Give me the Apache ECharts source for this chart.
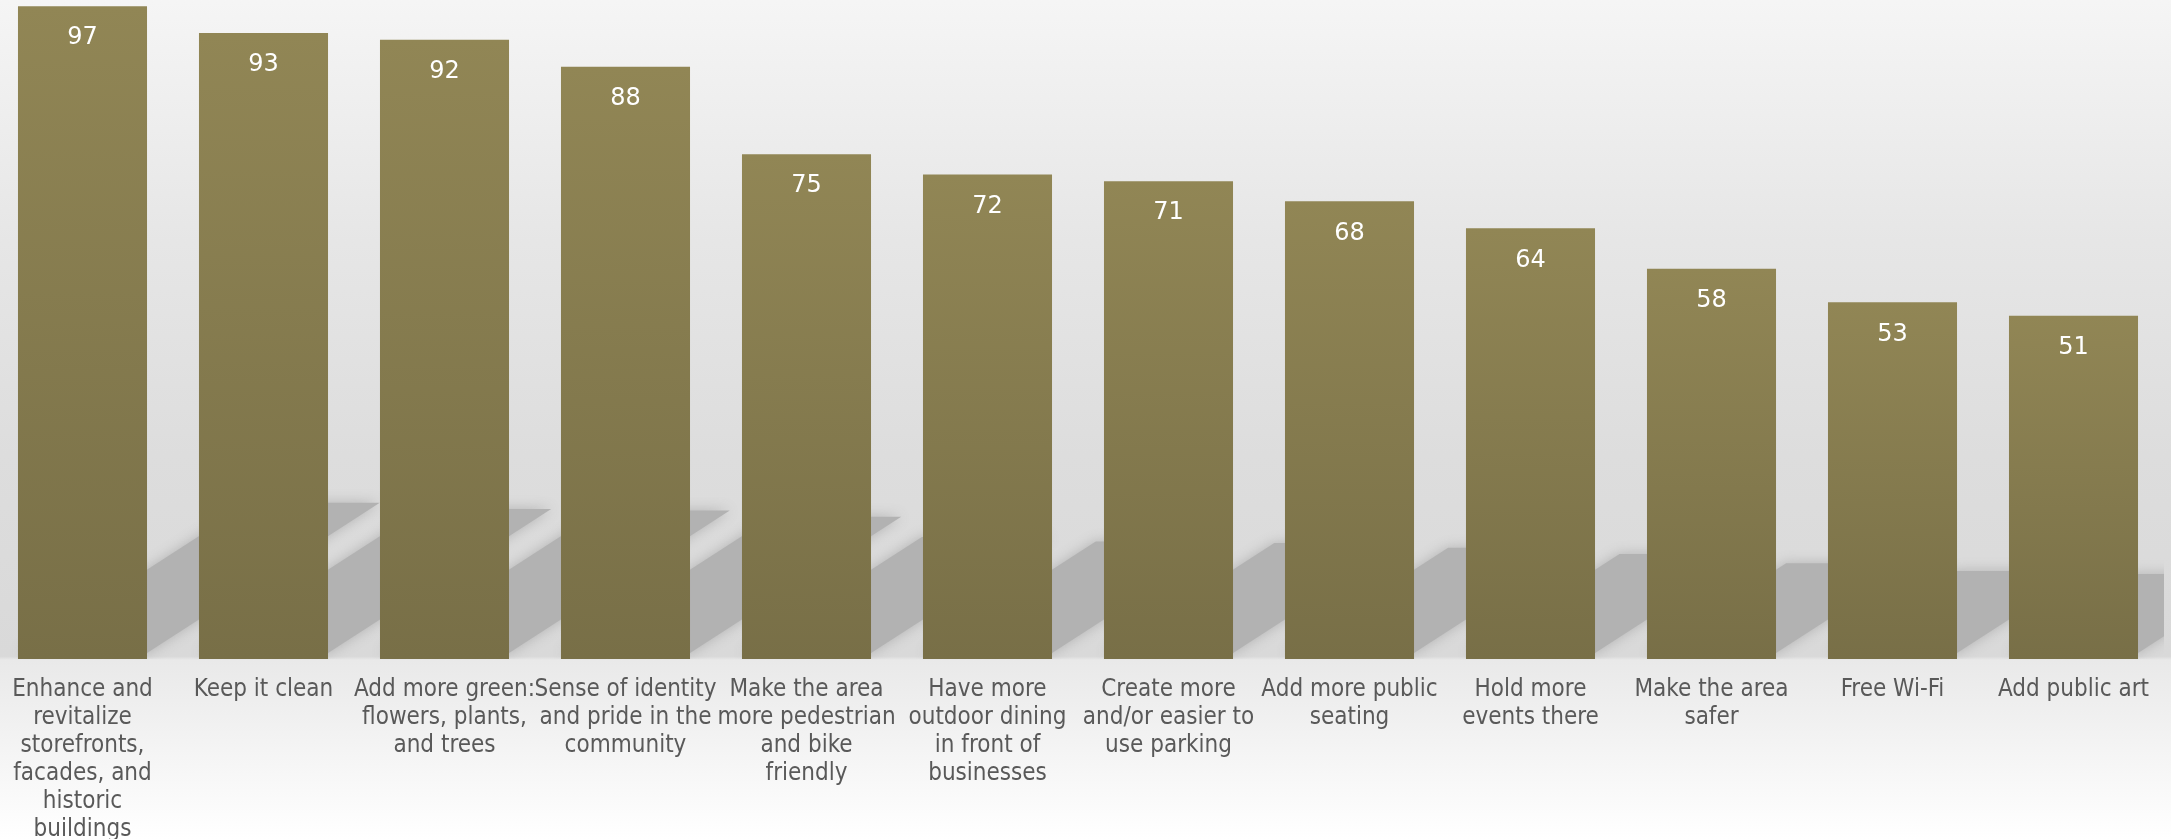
<!DOCTYPE html>
<html>
<head>
<meta charset="utf-8">
<script src="https://cdn.jsdelivr.net/npm/echarts@6/dist/echarts.min.js"></script>
<style>
html,body{margin:0;padding:0;width:100%;height:100%;overflow:hidden;background:#ffffff;}
#chart{position:absolute;left:-8px;top:-14px;width:2179px;height:853px;}
</style>
</head>
<body>
<div id="chart"></div>
<script>
const categories = [
  "Enhance and\nrevitalize\nstorefronts,\nfacades, and\nhistoric\nbuildings",
  "Keep it clean",
  "Add more green:\nflowers, plants,\nand trees",
  "Sense of identity\nand pride in the\ncommunity",
  "Make the area\nmore pedestrian\nand bike\nfriendly",
  "Have more\noutdoor dining\nin front of\nbusinesses",
  "Create more\nand/or easier to\nuse parking",
  "Add more public\nseating",
  "Hold more\nevents there",
  "Make the area\nsafer",
  "Free Wi-Fi",
  "Add public art"
];
const values = [97, 93, 92, 88, 75, 72, 71, 68, 64, 58, 53, 51];

const chart = echarts.init(document.getElementById('chart'));
const BAR_FRAC = 0.713;
const option = {
  animation: false,
  backgroundColor: {
    type: 'linear', x: 0, y: 0, x2: 0, y2: 1,
    colorStops: [
      {offset: 0, color: '#f6f6f6'},
      {offset: 0.3, color: '#e6e6e6'},
      {offset: 0.55, color: '#dddddd'},
      {offset: 0.786, color: '#d9d9d9'},
      {offset: 0.79, color: '#e9e9e9'},
      {offset: 1, color: '#ffffff'}
    ]
  },
  grid: {left: 0, right: 7, top: 0, bottom: 180, containLabel: false, outerBoundsMode: 'none'},
  xAxis: {
    type: 'category',
    data: categories,
    axisLine: {show: false},
    axisTick: {show: false},
    axisLabel: {
      interval: 0,
      margin: 17,
      color: '#595959',
      fontFamily: 'DejaVu Sans Condensed',
      fontSize: 24,
      lineHeight: 28
    }
  },
  yAxis: {
    type: 'value', min: 0, max: 100,
    show: false,
    splitLine: {show: false}
  },
  series: [
    {
      type: 'custom',
      z: 1,
      silent: true,
      clip: true,
      renderItem: function (params, api) {
        const idx = api.value(0);
        const v = api.value(1);
        const base = api.coord([idx, 0]);
        const top = api.coord([idx, v]);
        const bw = api.size([1, 0])[0] * BAR_FRAC;
        const x0 = base[0] - bw / 2, x1 = base[0] + bw / 2;
        const y0 = base[1] - 6;
        const h = (base[1] - top[1]) * 0.23;
        const dx = h * 1.55;
        return {
          type: 'polygon',
          shape: {points: [[x0, y0], [x1, y0], [x1 + dx, y0 - h], [x0 + dx, y0 - h]]},
          style: {
            fill: '#b2b2b2',
            shadowBlur: 13,
            shadowColor: '#b2b2b2'
          }
        };
      },
      data: values.map((v, i) => [i, v])
    },
    {
      type: 'bar',
      z: 2,
      data: values,
      barWidth: (BAR_FRAC * 100) + '%',
      itemStyle: {
        color: {
          type: 'linear', x: 0, y: 0, x2: 0, y2: 1,
          colorStops: [
            {offset: 0, color: '#918655'},
            {offset: 1, color: '#786f47'}
          ]
        }
      },
      label: {
        show: true,
        position: 'insideTop',
        distance: 20,
        color: '#ffffff',
        fontFamily: 'DejaVu Sans',
        fontSize: 24
      }
    }
  ]
};
chart.setOption(option);
</script>
</body>
</html>
